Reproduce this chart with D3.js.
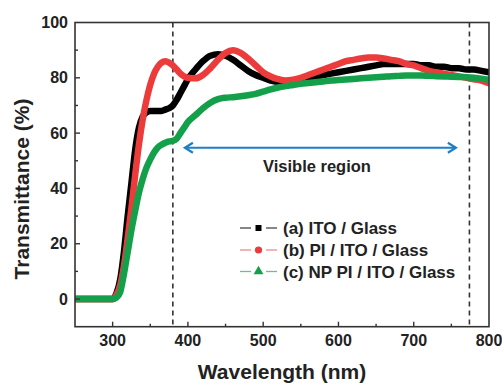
<!DOCTYPE html>
<html><head><meta charset="utf-8">
<script src="https://cdn.jsdelivr.net/npm/d3@7"></script>
<style>body{margin:0;background:#fff}svg{display:block}text{font-family:"Liberation Sans",Arial,sans-serif;font-weight:bold;fill:#222}</style>
</head><body>
<svg id="c" width="502" height="385"></svg>
<script>
const wavelengths = [250,260,270,280,290,300,305,310,315,320,325,330,335,340,345,350,355,360,365,370,375,380,385,390,395,400,
410,420,430,440,450,460,470,480,490,500,510,520,530,540,550,560,570,580,590,600,610,620,630,640,650,660,670,680,690,700,710,720,730,740,750,760,770,780,790,800];
const seriesA = [0,0,0,0,0,0,2,7,17,30,42,54,62,66,67.5,68,68,68,68,68.5,69,70,72,74.5,77,79.5,
83,86,88,88.5,88,86.5,84.5,82.5,81,80,79,78.5,78.5,79,79.5,80,80.5,81,81.5,82,82.5,83,83.5,84,84.5,85,85,85,85,85,84.5,84.5,84,84,83.5,83.5,83,83,82.5,82];
const seriesB = [0,0,0,0,0,0,1.5,5,12,22,33,45,56,65,72,77.5,81.5,84,85.5,86,85.5,84.5,83,81.5,80.5,80,
79.8,81,83.5,86.5,89,90,89,87,84.5,82,80.5,79.5,79,79.3,80,81,82,83,84,85,86,86.5,87,87.3,87.3,87,86.5,86,85,84.5,83.5,82.5,82,81.5,81,80.5,80,79.5,79,78];
const seriesC = [0,0,0,0,0,0,0.5,2.5,9,17,25,32,38.5,43.5,47.5,50.5,53,54.8,55.8,56.5,57,57.2,58,60,62,64,
66.5,69,71,72.3,72.8,73,73.3,73.7,74.2,75,75.8,76.5,77,77.4,77.8,78.1,78.4,78.7,79,79.2,79.4,79.6,79.8,80,80.2,80.4,80.6,80.7,80.8,80.8,80.8,80.7,80.6,80.5,80.4,80.3,80.2,80,79.7,79.3];
const seriesNames = ["(a) ITO / Glass","(b) PI / ITO / Glass","(c) NP PI / ITO / Glass"];
const seriesColors = ["#000000","#ec3b3b","#14a04a"];
const legendLineColors = ["#444444","#f08a8a","#6cc08a"];
const xTicks = [300,400,500,600,700,800];
const yTicks = [0,20,40,60,80,100];
const visibleBounds = [380,774];
const arrowRange = [396,756];
const arrowLevel = 54.7;

const svg = d3.select("#c");
const L=75,R=489,T=22.5,B=326.7;
const x = d3.scaleLinear().domain([250,800]).range([L,R]);
const y = d3.scaleLinear().domain([-10,100]).range([B,T]);

svg.append("clipPath").attr("id","clip").append("rect").attr("x",L).attr("y",T).attr("width",R-L).attr("height",B-T);

visibleBounds.forEach(v=>{
  svg.append("line").attr("x1",x(v)).attr("x2",x(v)).attr("y1",T).attr("y2",B)
    .attr("stroke","#333").attr("stroke-width",1.6).attr("stroke-dasharray","5,4");
});

const line = d3.line().x((d,i)=>x(wavelengths[i])).y(d=>y(d)).curve(d3.curveMonotoneX);
const g = svg.append("g").attr("clip-path","url(#clip)");
[seriesA,seriesB,seriesC].forEach((s,k)=>{
  g.append("path").attr("d",line(s)).attr("fill","none").attr("stroke",seriesColors[k])
   .attr("stroke-width",6.5).attr("stroke-linejoin","round").attr("stroke-linecap","round");
});

const ay=y(arrowLevel);
svg.append("line").attr("x1",x(arrowRange[0])).attr("x2",x(arrowRange[1])).attr("y1",ay).attr("y2",ay)
  .attr("stroke","#1b7fc8").attr("stroke-width",2);
[[arrowRange[0],1],[arrowRange[1],-1]].forEach(([v,d])=>{
  const px=x(v);
  svg.append("path").attr("d",`M${px+d*8},${ay-5} L${px},${ay} L${px+d*8},${ay+5}`)
    .attr("fill","none").attr("stroke","#1b7fc8").attr("stroke-width",2.2);
});
svg.append("text").attr("x",317).attr("y",172).attr("text-anchor","middle").style("font-size","16.5px").text("Visible region");

svg.append("rect").attr("x",L).attr("y",T).attr("width",R-L).attr("height",B-T)
  .attr("fill","none").attr("stroke","#333").attr("stroke-width",1.6);

const tk = svg.append("g").attr("stroke","#333").attr("stroke-width",1.4);
d3.range(300,800,50).forEach(v=>{
  const major = v%100===0;
  tk.append("line").attr("x1",x(v)).attr("x2",x(v)).attr("y1",B).attr("y2",B-(major?5:3));
});
d3.range(0,100,10).forEach(v=>{
  const major = v%20===0;
  tk.append("line").attr("x1",L).attr("x2",L+(major?5:3)).attr("y1",y(v)).attr("y2",y(v));
});
xTicks.forEach(v=>{
  svg.append("text").attr("x",x(v)).attr("y",346).attr("text-anchor","middle").style("font-size","16px").text(v);
});
yTicks.forEach(v=>{
  svg.append("text").attr("x",68).attr("y",y(v)+5.5).attr("text-anchor","end").style("font-size","16px").text(v);
});

svg.append("text").attr("x",282).attr("y",379).attr("text-anchor","middle").style("font-size","21px").text("Wavelength (nm)");
svg.append("text").attr("transform","translate(29,189) rotate(-90)").attr("text-anchor","middle").style("font-size","21px").text("Transmittance (%)");

const ly=[228,250,271.5];
seriesNames.forEach((n,k)=>{
  const c=seriesColors[k], lc=legendLineColors[k];
  svg.append("line").attr("x1",240).attr("x2",251).attr("y1",ly[k]).attr("y2",ly[k]).attr("stroke",lc).attr("stroke-width",1.3);
  svg.append("line").attr("x1",266).attr("x2",277).attr("y1",ly[k]).attr("y2",ly[k]).attr("stroke",lc).attr("stroke-width",1.3);
  if(k===0) svg.append("rect").attr("x",255.5).attr("y",ly[k]-3).attr("width",6).attr("height",6).attr("fill",c);
  if(k===1) svg.append("circle").attr("cx",258.5).attr("cy",ly[k]).attr("r",3.6).attr("fill",c);
  if(k===2) svg.append("path").attr("d",d3.symbol(d3.symbolTriangle,42)()).attr("transform",`translate(258.5,${ly[k]})`).attr("fill",c);
  svg.append("text").attr("x",283).attr("y",ly[k]+6).style("font-size","17px").text(n);
});
</script>
</body></html>
